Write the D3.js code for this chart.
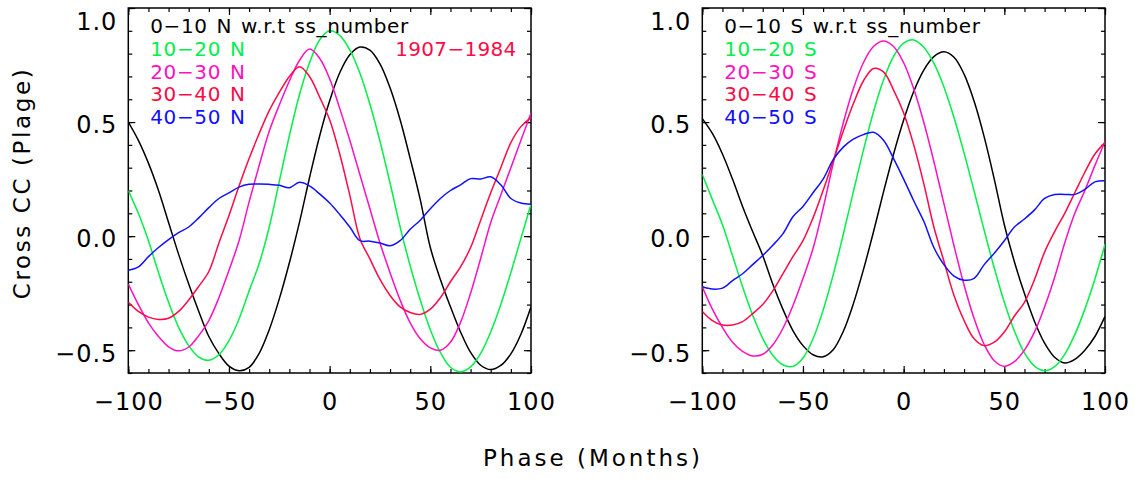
<!DOCTYPE html>
<html>
<head>
<meta charset="utf-8">
<script src="https://cdn.jsdelivr.net/npm/d3@7"></script>
<style>
  body { margin: 0; background: #fff; }
  text { font-family: "DejaVu Sans", sans-serif; }
</style>
</head>
<body>
<svg id="chart" width="1135" height="479"></svg>
<script>
// Phase lag in months (shared by every curve)
const phase = [-100, -95, -90, -85, -80, -75, -70, -65, -60, -55, -50, -45, -40, -35, -30, -25, -20, -15, -10, -5,
    0, 5, 10, 15, 20, 25, 30, 35, 40, 45, 50, 55, 60, 65, 70, 75, 80, 85, 90, 95, 100];

// Northern latitude bands
const north0010 = [0.50, 0.42, 0.32, 0.20, 0.06, -0.08, -0.21, -0.33, -0.44, -0.515, -0.57, -0.59, -0.575, -0.514, -0.41, -0.275, -0.117, 0.06, 0.256, 0.438,
    0.593, 0.716, 0.795, 0.829, 0.815, 0.755, 0.65, 0.51, 0.34, 0.16, -0.05, -0.19, -0.31, -0.42, -0.51, -0.566, -0.585, -0.567, -0.516, -0.43, -0.31];
const north1020 = [0.20, 0.10, -0.02, -0.16, -0.29, -0.40, -0.48, -0.53, -0.544, -0.52, -0.458, -0.363, -0.24, -0.12, 0.04, 0.24, 0.44, 0.62, 0.76, 0.86,
    0.90, 0.88, 0.816, 0.715, 0.578, 0.416, 0.233, 0.04, -0.13, -0.28, -0.41, -0.51, -0.575, -0.595, -0.573, -0.514, -0.42, -0.30, -0.16, -0.01, 0.14];
const north2030 = [-0.21, -0.30, -0.38, -0.44, -0.485, -0.503, -0.486, -0.436, -0.37, -0.27, -0.15, -0.02, 0.15, 0.31, 0.46, 0.575, 0.68, 0.77, 0.82, 0.78,
    0.69, 0.56, 0.42, 0.27, 0.12, -0.03, -0.16, -0.28, -0.38, -0.45, -0.49, -0.50, -0.465, -0.378, -0.25, -0.098, 0.06, 0.18, 0.30, 0.42, 0.54];
const north3040 = [-0.29, -0.33, -0.355, -0.365, -0.36, -0.33, -0.28, -0.22, -0.155, -0.03, 0.09, 0.22, 0.34, 0.45, 0.55, 0.63, 0.70, 0.743, 0.70, 0.61,
    0.51, 0.36, 0.18, -0.01, -0.10, -0.19, -0.26, -0.31, -0.335, -0.343, -0.32, -0.27, -0.20, -0.135, -0.05, 0.07, 0.19, 0.30, 0.41, 0.48, 0.52];
const north4050 = [-0.15, -0.135, -0.09, -0.05, -0.015, 0.015, 0.04, 0.08, 0.125, 0.165, 0.19, 0.215, 0.227, 0.228, 0.227, 0.223, 0.212, 0.236, 0.22, 0.185,
    0.145, 0.095, 0.04, -0.02, -0.022, -0.03, -0.042, -0.02, 0.03, 0.07, 0.12, 0.165, 0.2, 0.225, 0.252, 0.25, 0.26, 0.225, 0.165, 0.145, 0.14];

// Southern latitude bands
const south0010 = [0.515, 0.45, 0.36, 0.25, 0.13, 0.02, -0.085, -0.21, -0.32, -0.414, -0.48, -0.52, -0.529, -0.498, -0.418, -0.297, -0.148, 0.018, 0.194, 0.36,
    0.509, 0.634, 0.728, 0.787, 0.808, 0.784, 0.71, 0.591, 0.435, 0.25, 0.05, -0.112, -0.252, -0.374, -0.469, -0.531, -0.556, -0.54, -0.50, -0.44, -0.352];
const south1020 = [0.27, 0.16, 0.05, -0.085, -0.222, -0.346, -0.448, -0.522, -0.564, -0.571, -0.534, -0.45, -0.325, -0.17, 0.007, 0.194, 0.376, 0.544, 0.684, 0.788,
    0.846, 0.86, 0.828, 0.758, 0.654, 0.52, 0.365, 0.197, 0.025, -0.14, -0.29, -0.416, -0.512, -0.57, -0.59, -0.572, -0.518, -0.432, -0.32, -0.188, -0.035];
const south2030 = [-0.222, -0.32, -0.40, -0.465, -0.505, -0.525, -0.518, -0.477, -0.405, -0.305, -0.186, -0.054, 0.122, 0.318, 0.496, 0.646, 0.76, 0.831, 0.855, 0.831,
    0.76, 0.646, 0.499, 0.327, 0.1425, -0.042, -0.214, -0.361, -0.475, -0.546, -0.57, -0.55, -0.50, -0.42, -0.31, -0.18, -0.03, 0.10, 0.20, 0.31, 0.414];
const south3040 = [-0.33, -0.37, -0.39, -0.39, -0.375, -0.34, -0.30, -0.24, -0.165, -0.09, -0.02, 0.08, 0.20, 0.33, 0.46, 0.58, 0.68, 0.735, 0.72, 0.64,
    0.54, 0.40, 0.23, 0.04, -0.11, -0.26, -0.37, -0.45, -0.48, -0.465, -0.42, -0.35, -0.29, -0.19, -0.07, 0.02, 0.10, 0.19, 0.28, 0.36, 0.41];
const south4050 = [-0.222, -0.232, -0.228, -0.195, -0.165, -0.125, -0.085, -0.04, 0.01, 0.085, 0.13, 0.19, 0.25, 0.335, 0.39, 0.425, 0.445, 0.455, 0.42, 0.34,
    0.25, 0.155, 0.065, -0.05, -0.125, -0.175, -0.193, -0.185, -0.125, -0.075, -0.02, 0.04, 0.075, 0.115, 0.165, 0.182, 0.183, 0.183, 0.205, 0.238, 0.243];

const northNames = ["0\u221210 N w.r.t ss_number", "10\u221220 N", "20\u221230 N", "30\u221240 N", "40\u221250 N"];
const southNames = ["0\u221210 S w.r.t ss_number", "10\u221220 S", "20\u221230 S", "30\u221240 S", "40\u221250 S"];
const periodLabel = "1907\u22121984";
const xTickValues = [-100, -50, 0, 50, 100];
const yTickValues = [-0.5, 0.0, 0.5, 1.0];

const colors = ["#000000", "#00f048", "#ff10c0", "#ff0a46", "#1010ff"];

const svg = d3.select("#chart");
const plotTop = 8, plotBottom = 373;

const y = d3.scaleLinear().domain([-0.6, 1.0]).range([plotBottom, plotTop]);

function drawPanel(id, left, right, series, names, extra) {
    const x = d3.scaleLinear().domain([-100, 100]).range([left, right]);
    const g = svg.append("g");

    g.append("clipPath").attr("id", "clip" + id)
        .append("rect")
        .attr("x", left).attr("y", plotTop)
        .attr("width", right - left).attr("height", plotBottom - plotTop);

    // minor ticks on all four sides
    const minorX = d3.range(-100, 101, 10);
    const minorY = d3.range(-6, 11, 1).map(d => d / 10);
    g.append("g").attr("transform", `translate(0,${plotBottom})`)
        .call(d3.axisBottom(x).tickValues(minorX).tickSize(-4).tickFormat(""));
    g.append("g").attr("transform", `translate(0,${plotTop})`)
        .call(d3.axisTop(x).tickValues(minorX).tickSize(-4).tickFormat(""));
    g.append("g").attr("transform", `translate(${left},0)`)
        .call(d3.axisLeft(y).tickValues(minorY).tickSize(-4).tickFormat(""));
    g.append("g").attr("transform", `translate(${right},0)`)
        .call(d3.axisRight(y).tickValues(minorY).tickSize(-4).tickFormat(""));

    // major ticks + labels
    g.append("g").attr("transform", `translate(0,${plotBottom})`)
        .call(d3.axisBottom(x).tickValues(xTickValues).tickSize(-7).tickPadding(20).tickFormat(d3.format("d")));
    g.append("g").attr("transform", `translate(0,${plotTop})`)
        .call(d3.axisTop(x).tickValues(xTickValues).tickSize(-7).tickFormat(""));
    const yl = g.append("g").attr("transform", `translate(${left},0)`)
        .call(d3.axisLeft(y).tickValues(yTickValues).tickSize(-7).tickPadding(11).tickFormat(d3.format(".1f")));
    g.append("g").attr("transform", `translate(${right},0)`)
        .call(d3.axisRight(y).tickValues(yTickValues).tickSize(-7).tickFormat(""));

    g.selectAll(".domain").remove();
    g.selectAll(".tick line").attr("stroke", "#000").attr("stroke-width", 1.2);
    g.selectAll(".tick text")
        .attr("fill", "#000")
        .style("font-family", "'DejaVu Sans', sans-serif")
        .style("font-size", "24px")
        .style("letter-spacing", "1px");
    yl.selectAll(".tick text").attr("dy", d => d === 1 ? "0.88em" : "0.45em");

    // frame
    g.append("rect")
        .attr("x", left).attr("y", plotTop)
        .attr("width", right - left).attr("height", plotBottom - plotTop)
        .attr("fill", "none").attr("stroke", "#000").attr("stroke-width", 1.5);

    const line = d3.line()
        .x((d, i) => x(phase[i]))
        .y(d => y(d))
        .curve(d3.curveCatmullRom.alpha(0.5));

    g.append("g").attr("clip-path", `url(#clip${id})`)
        .selectAll("path")
        .data(series)
        .join("path")
        .attr("fill", "none")
        .attr("stroke", (d, i) => colors[i])
        .attr("stroke-width", 1.5)
        .attr("d", d => line(d));

    // legend
    g.selectAll(".legend")
        .data(names)
        .join("text")
        .attr("class", "legend")
        .attr("x", left + 22)
        .attr("y", (d, i) => 33 + i * 22.8)
        .attr("fill", (d, i) => colors[i])
        .style("font-size", "20px")
        .style("letter-spacing", "0.6px")
        .style("word-spacing", "2px")
        .text(d => d);

    if (extra) {
        g.append("text")
            .attr("x", left + 267)
            .attr("y", 55.8)
            .attr("fill", colors[3])
            .style("font-size", "20px")
            .style("letter-spacing", "0.3px")
            .text(extra);
    }
}

drawPanel("N", 128.3, 531, [north0010, north1020, north2030, north3040, north4050], northNames, periodLabel);
drawPanel("S", 702.3, 1105, [south0010, south1020, south2030, south3040, south4050], southNames, null);

// axis titles
svg.append("text")
    .attr("x", 593).attr("y", 466)
    .attr("text-anchor", "middle")
    .style("font-size", "23px")
    .style("letter-spacing", "3px")
    .text("Phase (Months)");

svg.append("text")
    .attr("transform", "translate(30,183) rotate(-90)")
    .attr("text-anchor", "middle")
    .style("font-size", "23px")
    .style("letter-spacing", "2.6px")
    .text("Cross CC (Plage)");
</script>
</body>
</html>
